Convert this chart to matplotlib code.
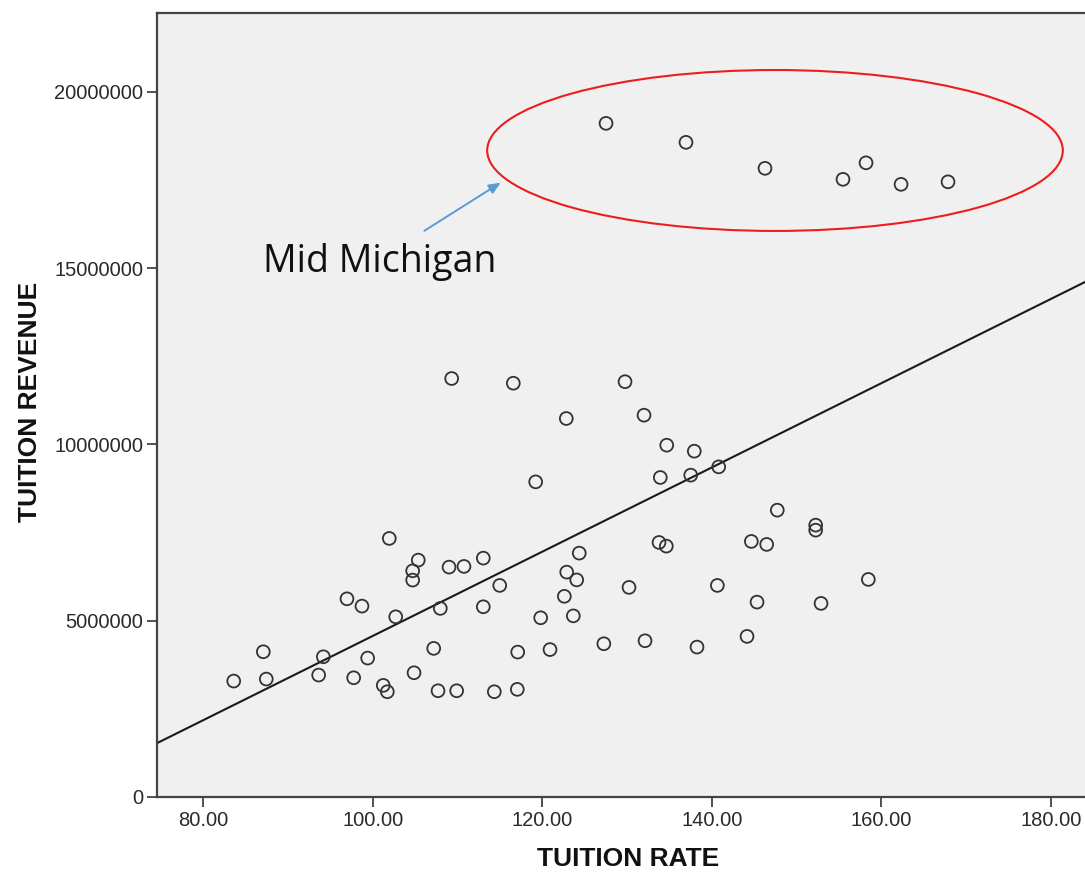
import matplotlib
matplotlib.use("Agg")
import matplotlib.pyplot as plt
from matplotlib.patches import Ellipse
import numpy as np

# Tuition rate (per credit hour) for each college
tuition_rate = [
    109.30, 116.57, 129.75, 122.82, 131.99, 119.21, 101.94, 105.36, 104.70, 104.70,
    108.99, 110.75, 113.03, 114.97, 124.35, 122.87, 124.05, 130.22, 122.59, 123.65,
    119.80, 113.03, 107.96, 102.70, 96.95, 98.72, 87.08, 94.16, 99.39, 107.18,
    117.09, 120.90, 127.25, 132.11, 83.59, 87.43, 93.61, 97.74, 104.86, 101.23,
    101.71, 107.69, 109.89, 114.33, 117.04, 134.67, 137.92, 133.91, 137.50, 140.80,
    147.71, 152.24, 152.24, 133.76, 134.62, 144.65, 146.46, 140.64, 158.45, 145.32,
    152.87, 138.24, 144.14,
    127.51, 136.94, 146.26, 155.46, 158.18, 162.31, 167.85,
]

# Tuition revenue (dollars) for each college
tuition_revenue = [
    11.871, 11.738, 11.781, 10.737, 10.831, 8.940, 7.335, 6.720, 6.416, 6.153,
    6.521, 6.541, 6.776, 6.002, 6.918, 6.379, 6.158, 5.946, 5.693, 5.138,
    5.084, 5.396, 5.350, 5.112, 5.622, 5.415, 4.120, 3.978, 3.941, 4.216,
    4.111, 4.182, 4.347, 4.432, 3.289, 3.346, 3.459, 3.382, 3.524, 3.167,
    2.986, 3.014, 3.014, 2.986, 3.054, 9.980, 9.810, 9.064, 9.130, 9.365,
    8.137, 7.712, 7.570, 7.221, 7.117, 7.250, 7.165, 6.002, 6.172, 5.529,
    5.492, 4.253, 4.556,
    19.110, 18.571, 17.834, 17.522, 17.990, 17.380, 17.451,
]
tuition_revenue = [v * 1e6 for v in tuition_revenue]

# Fitted linear trend: revenue = intercept + slope * rate
fit_intercept = -7.38e6
fit_slope = 119500.0

x_ticks = [80, 100, 120, 140, 160, 180]
y_ticks = [0, 5000000, 10000000, 15000000, 20000000]

W, H = 1085, 877
fig = plt.figure(figsize=(W / 100, H / 100), dpi=100)
fig.patch.set_facecolor("white")

left, right, top, bottom = 157, 1099, 13, 797
ax = fig.add_axes([left / W, 1 - bottom / H, (right - left) / W, (bottom - top) / H])
ax.set_facecolor("#f0f0f0")

xlim = (74.54, 185.66)
ylim = (0, 22.24e6)
ax.set_xlim(*xlim)
ax.set_ylim(*ylim)

# Trend line across the full x range
xs = np.array(xlim)
ax.plot(xs, fit_intercept + fit_slope * xs, color="#1a1a1a", lw=1.5, zorder=2)

# Open-circle scatter
ax.scatter(tuition_rate, tuition_revenue, s=85, facecolors="none",
           edgecolors="#333333", linewidths=1.3, zorder=3)

# Highlight of the Mid Michigan cluster
ax.add_patch(Ellipse((147.44, 18.34e6), 67.9, 4.565e6, fill=False,
                     edgecolor="#ee1c1c", lw=1.5, zorder=4))
ax.annotate("", xy=(115.36, 17.47e6), xytext=(105.80, 16.02e6),
            arrowprops=dict(arrowstyle="-|>,head_length=0.7,head_width=0.3",
                            color="#5b9bd5", lw=1.4), zorder=5)
ax.text(87.04, 14.885e6, "Mid Michigan", fontsize=27, family="Open Sans",
        color="#111111", ha="left", va="baseline", zorder=5)

ax.set_xticks(x_ticks)
ax.set_xticklabels([f"{v:.2f}" for v in x_ticks])
ax.set_yticks(y_ticks)
ax.set_yticklabels([str(v) for v in y_ticks])
ax.tick_params(direction="out", length=7, width=1.2, color="#333333",
               labelsize=14.5, labelcolor="#2a2a2a", pad=3)
for lbl in ax.get_xticklabels() + ax.get_yticklabels():
    lbl.set_family("Liberation Sans")

for side in ["left", "top", "bottom", "right"]:
    ax.spines[side].set_color("#444444")
    ax.spines[side].set_linewidth(1.6)

ax.set_xlabel("TUITION RATE", fontsize=19, fontweight="bold",
              family="Liberation Sans", color="#111111")
ax.xaxis.label.set_verticalalignment("center")
ax.xaxis.set_label_coords((628 - left) / (right - left), -(859 - bottom) / (bottom - top))
ax.set_ylabel("TUITION REVENUE", fontsize=19, fontweight="bold",
              family="Liberation Sans", color="#111111")
ax.yaxis.label.set_verticalalignment("center")
ax.yaxis.set_label_coords((30 - left) / (right - left), (bottom - 402) / (bottom - top))

fig.savefig("out.png", dpi=100, facecolor="white")
